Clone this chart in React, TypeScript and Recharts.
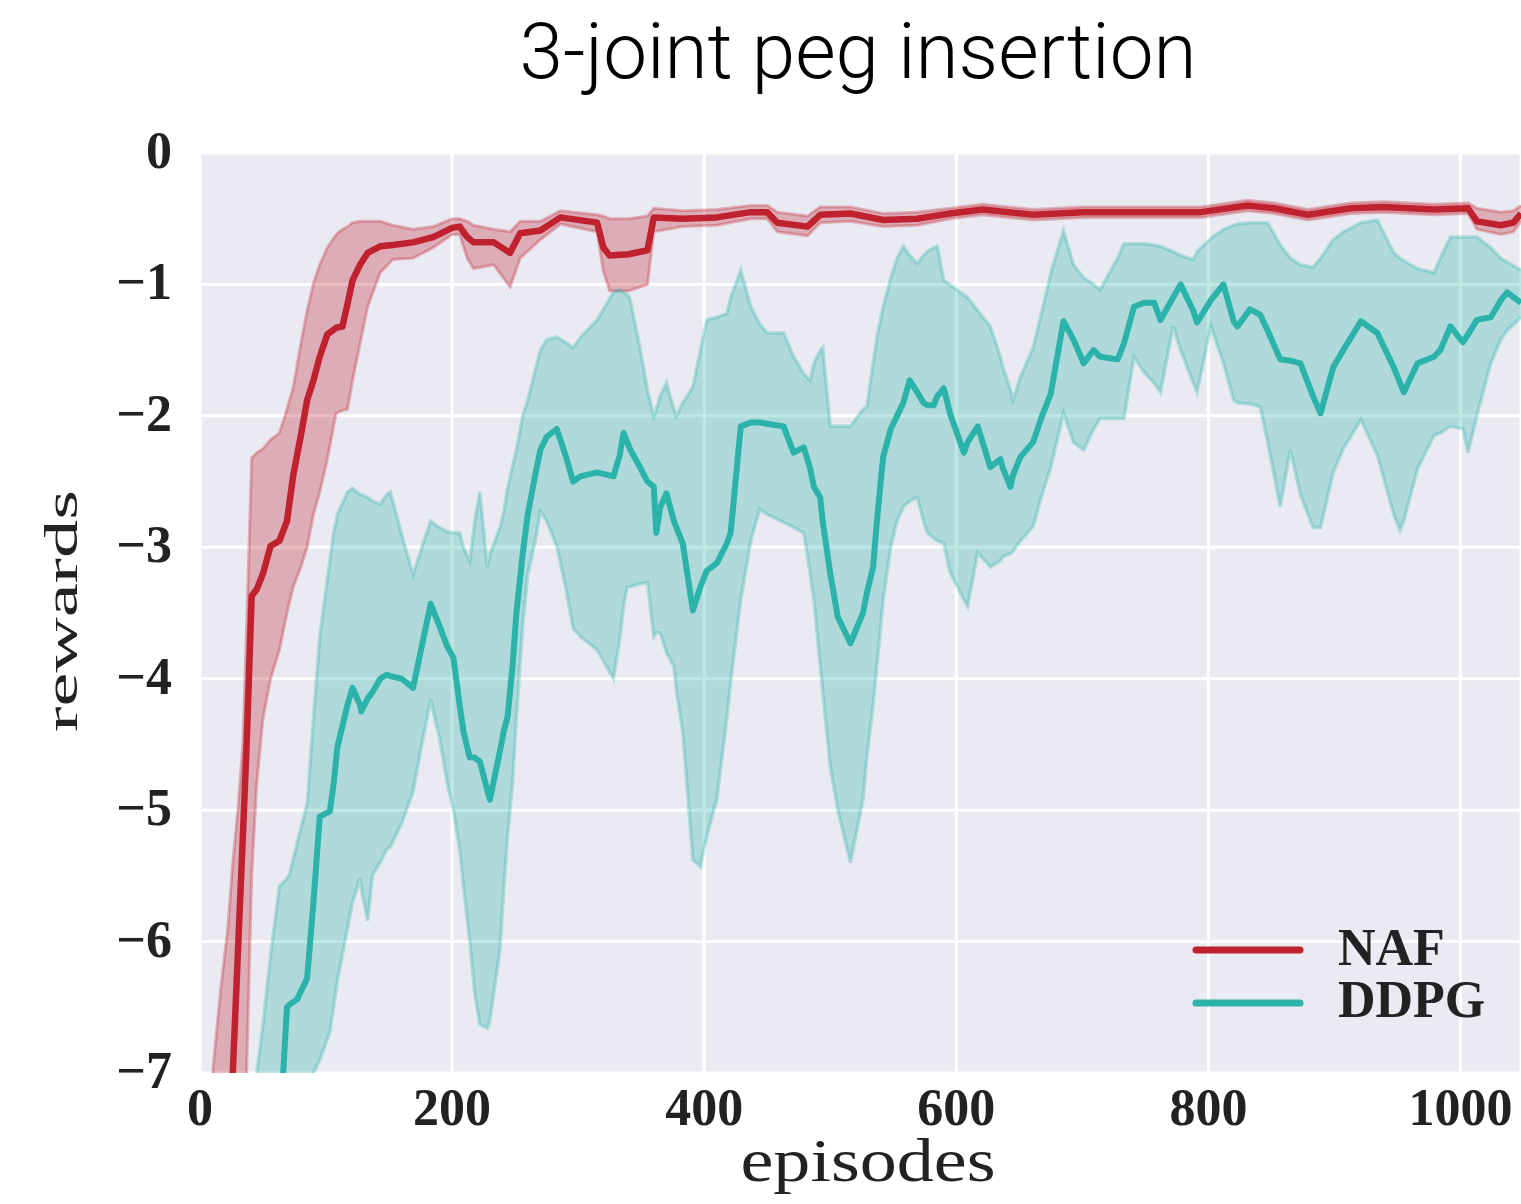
import React from 'react';
import { ComposedChart, Line, Area, XAxis, YAxis, CartesianGrid, Legend } from 'recharts';

// NAF: episodes, mean reward and the shaded band (low / high)
const nafEpisodes = [5, 10, 16, 22, 26, 30, 34, 37, 41, 45, 50, 56, 63, 69, 74, 80, 85, 90, 95, 101, 108, 113, 117, 121, 127, 133, 143, 153, 169, 185, 200, 206, 212, 217, 233, 246, 254, 270, 286, 315, 320, 325, 340, 355, 360, 383, 410, 437, 450, 458, 482, 492, 516, 542, 569, 595, 621, 661, 701, 754, 794, 831, 852, 879, 913, 939, 979, 1006, 1013, 1032, 1042, 1048];
const nafMean = [-12, -10.7, -9.3, -7.9, -7.0, -6.1, -5.2, -4.5, -3.37, -3.32, -3.2, -2.99, -2.95, -2.8, -2.45, -2.15, -1.88, -1.73, -1.55, -1.38, -1.33, -1.32, -1.15, -0.97, -0.85, -0.76, -0.71, -0.7, -0.68, -0.64, -0.57, -0.56, -0.64, -0.68, -0.68, -0.76, -0.61, -0.59, -0.49, -0.53, -0.72, -0.78, -0.77, -0.74, -0.49, -0.5, -0.49, -0.45, -0.45, -0.53, -0.56, -0.47, -0.46, -0.51, -0.5, -0.46, -0.43, -0.47, -0.45, -0.45, -0.45, -0.4, -0.42, -0.47, -0.42, -0.41, -0.43, -0.42, -0.52, -0.55, -0.53, -0.46];
const nafLow = [-14, -13, -12, -10.5, -9.5, -8.5, -7.6, -7.0, -5.5, -4.8, -4.3, -4.0, -3.78, -3.5, -3.3, -3.15, -3.0, -2.75, -2.58, -2.33, -1.98, -1.96, -1.95, -1.73, -1.45, -1.17, -0.91, -0.81, -0.8, -0.72, -0.62, -0.62, -0.8, -0.88, -0.85, -1.02, -0.8, -0.66, -0.54, -0.6, -0.9, -1.05, -1.05, -1.0, -0.6, -0.56, -0.55, -0.5, -0.5, -0.6, -0.63, -0.53, -0.52, -0.56, -0.55, -0.5, -0.47, -0.51, -0.49, -0.49, -0.49, -0.44, -0.46, -0.51, -0.46, -0.45, -0.47, -0.46, -0.58, -0.62, -0.6, -0.52];
const nafHigh = [-8.5, -7.0, -6.4, -5.9, -5.4, -5.0, -4.5, -3.6, -2.32, -2.28, -2.25, -2.18, -2.13, -1.95, -1.78, -1.45, -1.2, -0.99, -0.85, -0.72, -0.62, -0.58, -0.56, -0.53, -0.52, -0.52, -0.52, -0.55, -0.58, -0.56, -0.5, -0.5, -0.52, -0.55, -0.58, -0.6, -0.52, -0.52, -0.44, -0.47, -0.48, -0.5, -0.5, -0.48, -0.42, -0.44, -0.43, -0.4, -0.4, -0.45, -0.48, -0.41, -0.41, -0.46, -0.45, -0.42, -0.39, -0.43, -0.41, -0.41, -0.41, -0.36, -0.38, -0.43, -0.38, -0.37, -0.39, -0.38, -0.42, -0.45, -0.44, -0.4];

// DDPG
const ddpgEpisodes = [40, 45, 50, 56, 63, 66, 69, 71, 77, 85, 90, 95, 103, 106, 109, 117, 121, 127, 128, 133, 137, 143, 148, 151, 160, 169, 176, 183, 190, 196, 201, 206, 209, 214, 218, 222, 228, 230, 238, 241, 244, 248, 251, 256, 260, 266, 270, 275, 283, 290, 296, 302, 315, 328, 333, 336, 339, 341, 349, 355, 360, 362, 365, 370, 376, 378, 383, 391, 397, 402, 410, 418, 421, 429, 437, 444, 450, 463, 471, 479, 484, 487, 492, 494, 500, 506, 516, 526, 529, 534, 537, 542, 548, 553, 558, 563, 569, 574, 577, 582, 585, 590, 595, 606, 609, 617, 627, 635, 637, 643, 645, 651, 661, 668, 675, 685, 693, 701, 709, 714, 728, 733, 741, 749, 757, 762, 772, 778, 788, 791, 802, 812, 820, 823, 833, 841, 847, 857, 865, 873, 883, 889, 899, 907, 921, 934, 947, 952, 955, 966, 979, 984, 992, 1002, 1006, 1013, 1024, 1032, 1037, 1048];
const ddpgMean = [-10, -9.5, -9, -8.5, -7.5, -7.0, -6.5, -6.48, -6.44, -6.28, -5.7, -5.05, -5.01, -4.8, -4.52, -4.2, -4.07, -4.2, -4.25, -4.15, -4.1, -4.0, -3.97, -3.98, -4.0, -4.07, -3.75, -3.43, -3.6, -3.75, -3.84, -4.2, -4.4, -4.6, -4.6, -4.63, -4.85, -4.92, -4.55, -4.4, -4.29, -3.9, -3.5, -3.05, -2.75, -2.45, -2.26, -2.16, -2.1, -2.3, -2.5, -2.46, -2.43, -2.46, -2.3, -2.13, -2.2, -2.25, -2.39, -2.5, -2.54, -2.89, -2.7, -2.59, -2.8, -2.85, -2.97, -3.48, -3.3, -3.18, -3.12, -2.97, -2.89, -2.08, -2.05, -2.05, -2.06, -2.08, -2.28, -2.24, -2.4, -2.54, -2.62, -2.8, -3.2, -3.53, -3.73, -3.5, -3.35, -3.15, -2.8, -2.31, -2.1, -2.0, -1.9, -1.73, -1.82, -1.9, -1.92, -1.92, -1.85, -1.79, -1.98, -2.28, -2.2, -2.08, -2.39, -2.33, -2.4, -2.54, -2.45, -2.31, -2.2, -2.0, -1.83, -1.28, -1.42, -1.6, -1.5, -1.55, -1.57, -1.45, -1.17, -1.14, -1.14, -1.27, -1.1, -1.0, -1.2, -1.29, -1.12, -1.0, -1.28, -1.32, -1.19, -1.23, -1.35, -1.57, -1.58, -1.6, -1.85, -1.98, -1.63, -1.5, -1.28, -1.37, -1.63, -1.75, -1.82, -1.6, -1.55, -1.5, -1.32, -1.44, -1.38, -1.27, -1.25, -1.12, -1.06, -1.14];
const ddpgLow = [-13, -12.5, -12, -11.5, -11, -10.5, -10, -9.8, -9, -7.6, -7.0, -6.9, -6.69, -6.5, -6.3, -5.9, -5.7, -5.52, -5.6, -5.84, -5.49, -5.4, -5.3, -5.28, -5.1, -4.86, -4.5, -4.16, -4.45, -4.79, -5.0, -5.3, -5.58, -6.0, -6.4, -6.63, -6.66, -6.6, -6.06, -5.6, -5.2, -4.79, -4.3, -3.6, -3.21, -2.95, -2.73, -2.8, -2.99, -3.3, -3.62, -3.68, -3.78, -4.0, -3.7, -3.45, -3.3, -3.3, -3.28, -3.27, -3.68, -3.65, -3.65, -3.8, -3.91, -4.1, -4.41, -5.38, -5.43, -5.2, -4.92, -4.3, -4.03, -3.4, -2.95, -2.71, -2.75, -2.81, -2.85, -2.89, -3.2, -3.4, -3.9, -4.1, -4.67, -5.0, -5.4, -4.92, -4.6, -4.2, -3.91, -3.4, -3.0, -2.8, -2.69, -2.65, -2.62, -2.8, -2.89, -2.93, -2.95, -2.97, -3.19, -3.4, -3.45, -3.04, -3.15, -3.1, -3.07, -3.05, -3.03, -2.95, -2.84, -2.6, -2.39, -1.98, -2.2, -2.26, -2.1, -2.02, -2.02, -2.02, -1.55, -1.67, -1.75, -1.82, -1.32, -1.5, -1.75, -1.82, -1.32, -1.6, -1.88, -1.9, -1.91, -1.93, -2.2, -2.69, -2.26, -2.6, -2.85, -2.85, -2.43, -2.25, -2.03, -2.3, -2.75, -2.87, -2.8, -2.4, -2.15, -2.13, -2.08, -2.1, -2.28, -2.0, -1.6, -1.42, -1.35, -1.25];
const ddpgHigh = [-7.6, -7.0, -6.63, -6.1, -5.58, -5.55, -5.52, -5.49, -5.25, -4.95, -4.3, -3.68, -3.1, -2.89, -2.75, -2.58, -2.55, -2.6, -2.6, -2.62, -2.65, -2.67, -2.6, -2.58, -2.9, -3.21, -3.0, -2.8, -2.85, -2.88, -2.89, -2.89, -3.0, -3.11, -2.8, -2.58, -3.15, -3.05, -2.85, -2.73, -2.55, -2.38, -2.26, -2.0, -1.88, -1.65, -1.5, -1.42, -1.4, -1.44, -1.48, -1.4, -1.27, -1.06, -1.04, -1.06, -1.08, -1.1, -1.48, -1.8, -2.0, -1.95, -1.85, -1.75, -1.95, -2.0, -1.9, -1.78, -1.5, -1.27, -1.25, -1.22, -1.1, -0.89, -1.17, -1.3, -1.37, -1.37, -1.55, -1.68, -1.73, -1.6, -1.5, -1.48, -2.08, -2.08, -2.08, -1.95, -1.93, -1.6, -1.4, -1.17, -0.95, -0.8, -0.71, -0.78, -0.84, -0.78, -0.75, -0.72, -0.71, -0.97, -1.0, -1.08, -1.1, -1.2, -1.32, -1.55, -1.63, -1.8, -1.88, -1.7, -1.48, -1.2, -0.91, -0.59, -0.85, -0.95, -1.0, -1.04, -0.8, -0.69, -0.69, -0.69, -0.7, -0.71, -0.75, -0.78, -0.81, -0.75, -0.65, -0.58, -0.55, -0.54, -0.53, -0.53, -0.53, -0.7, -0.8, -0.85, -0.87, -0.8, -0.66, -0.6, -0.53, -0.51, -0.76, -0.8, -0.82, -0.88, -0.91, -0.8, -0.64, -0.64, -0.64, -0.64, -0.72, -0.8, -0.83, -0.89];

const xTicks = [0, 200, 400, 600, 800, 1000];
const yTicks = [-7, -6, -5, -4, -3, -2, -1, 0];

const RED = '#C0212E';
const TEAL = '#2BB3AA';
const SERIF = "'Liberation Serif', 'DejaVu Serif', serif";

const nafRows = nafEpisodes.map((ep, i) => ({ ep, mean: nafMean[i], band: [nafLow[i], nafHigh[i]] }));
const ddpgRows = ddpgEpisodes.map((ep, i) => ({ ep, mean: ddpgMean[i], band: [ddpgLow[i], ddpgHigh[i]] }));

const XTick = (props: any) => {
  const { x, y, payload } = props;
  return (
    <text x={x} y={y + 52} textAnchor="middle" fontFamily={SERIF} fontWeight="bold" fontSize={52} fill="#222">
      {payload.value}
    </text>
  );
};

const YTick = (props: any) => {
  const { y, payload } = props;
  const v = payload.value;
  const label = v < 0 ? `\u2212${Math.abs(v)}` : `${v}`;
  return (
    <text x={172} y={y + 15} textAnchor="end" fontFamily={SERIF} fontWeight="bold" fontSize={52} fill="#222">
      {label}
    </text>
  );
};

const renderLegend = () => (
  <svg width={331} height={110}>
    <line x1={6} y1={30} x2={110} y2={30} stroke={RED} strokeWidth={7} strokeLinecap="round" />
    <line x1={6} y1={83} x2={110} y2={83} stroke={TEAL} strokeWidth={7} strokeLinecap="round" />
    <text x={148} y={45} fontFamily={SERIF} fontWeight="bold" fontSize={52} fill="#222">NAF</text>
    <text x={148} y={97} fontFamily={SERIF} fontWeight="bold" fontSize={52} fill="#222">DDPG</text>
  </svg>
);

const App = () => {
  return (
    <div style={{ position: 'absolute', left: 0, top: 0, width: 1521, height: 1204, background: '#fff' }}>
      <svg width={1521} height={110} style={{ position: 'absolute', left: 0, top: 0 }}>
        <text x={858} y={78} textAnchor="middle" fontFamily="Roboto, 'Liberation Sans', sans-serif" fontWeight={300} fontSize={78} textLength={677} lengthAdjust="spacingAndGlyphs" fill="#000">
          3-joint peg insertion
        </text>
      </svg>
      <ComposedChart width={1521} height={1204} margin={{ top: 153, right: 0, bottom: 0, left: 0 }}>
        <CartesianGrid fill="#EAEAF2" stroke="#fff" strokeWidth={3} />
        <XAxis
          type="number"
          dataKey="ep"
          domain={[0, 1048]}
          ticks={xTicks}
          allowDataOverflow
          axisLine={false}
          tickLine={false}
          tickSize={0}
          tickMargin={0}
          height={131}
          tick={<XTick />}
          interval={0}
          label={{
            content: () => (
              <text x={868} y={1181} textAnchor="middle" fontFamily={SERIF} fontSize={62} textLength={255} lengthAdjust="spacingAndGlyphs" fill="#222">
                episodes
              </text>
            ),
          }}
        />
        <YAxis
          type="number"
          domain={[-7, 0]}
          ticks={yTicks}
          allowDataOverflow
          axisLine={false}
          tickLine={false}
          tickSize={0}
          width={200}
          tick={<YTick />}
          interval={0}
          label={{
            content: () => (
              <text transform="translate(77,611) rotate(-90)" textAnchor="middle" fontFamily={SERIF} fontSize={46} textLength={242} lengthAdjust="spacingAndGlyphs" fill="#222">
                rewards
              </text>
            ),
          }}
        />
        <Area data={nafRows} dataKey="band" type="linear" fill={RED} fillOpacity={0.3} stroke={RED} strokeOpacity={0.3} strokeWidth={3} isAnimationActive={false} legendType="none" />
        <Area data={ddpgRows} dataKey="band" type="linear" fill={TEAL} fillOpacity={0.3} stroke={TEAL} strokeOpacity={0.3} strokeWidth={3.5} isAnimationActive={false} legendType="none" />
        <Line data={ddpgRows} dataKey="mean" name="DDPG" type="linear" stroke={TEAL} strokeWidth={6} strokeLinejoin="round" dot={false} isAnimationActive={false} />
        <Line data={nafRows} dataKey="mean" name="NAF" type="linear" stroke={RED} strokeWidth={6.5} strokeLinejoin="round" dot={false} isAnimationActive={false} />
        <Legend
          layout="vertical"
          align="center"
          verticalAlign="middle"
          content={renderLegend}
          wrapperStyle={{ position: 'absolute', left: 1190, top: 920, width: 331, height: 110 }}
        />
      </ComposedChart>
    </div>
  );
};

export default App;
